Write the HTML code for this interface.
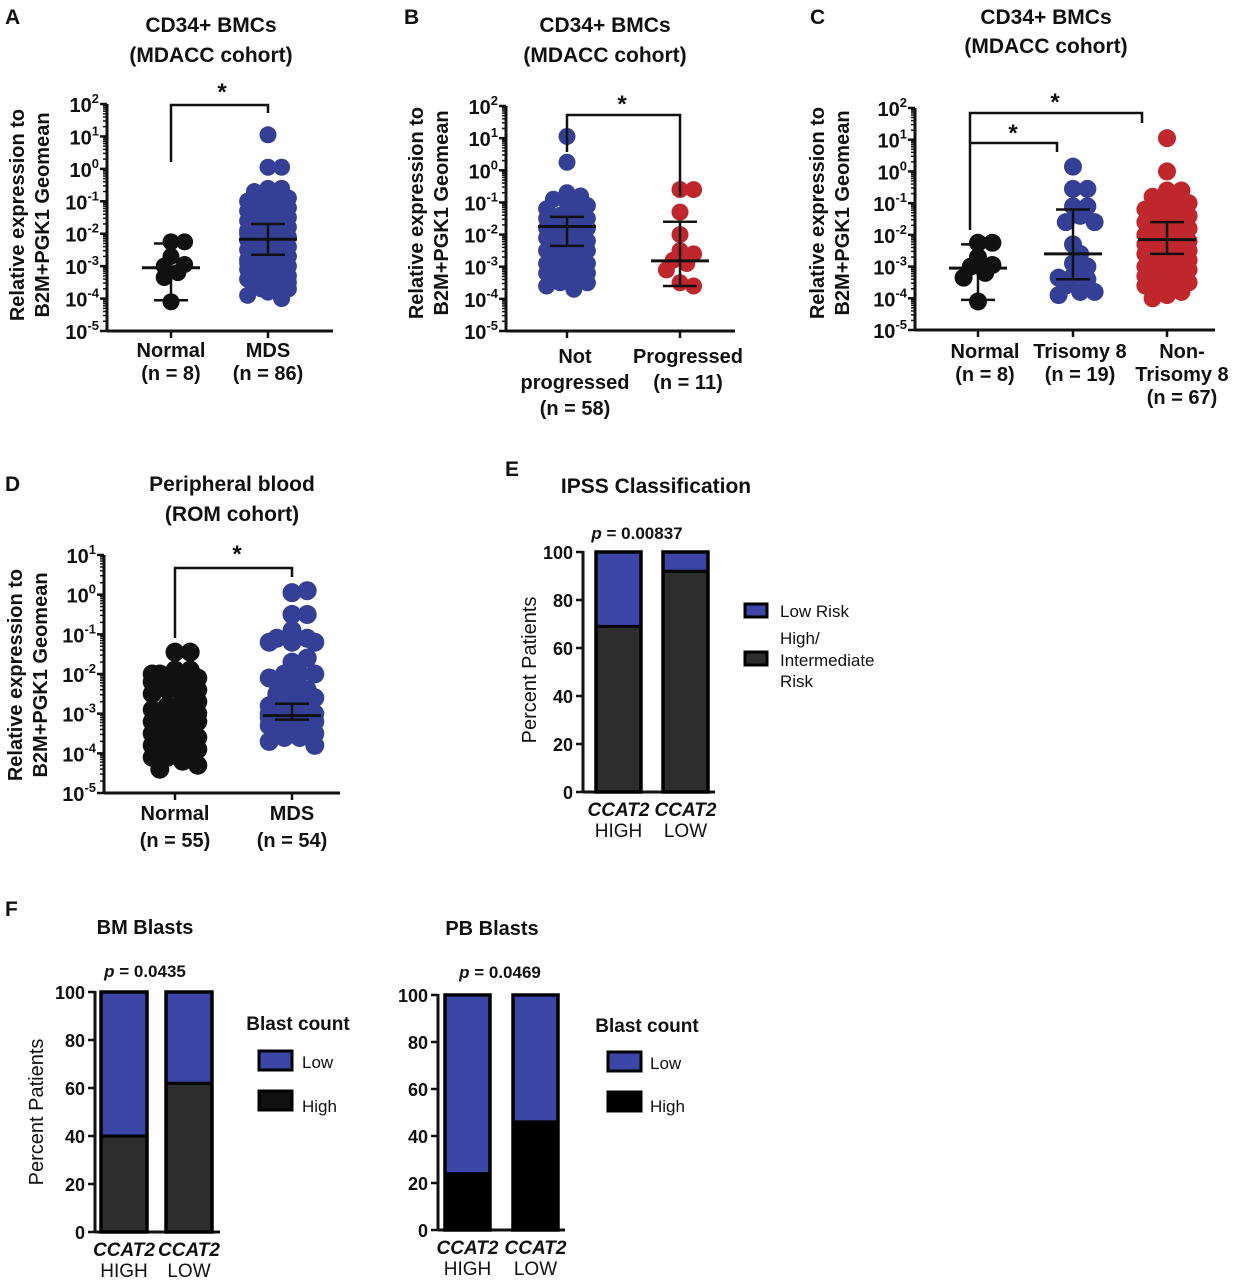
<!DOCTYPE html>
<html><head><meta charset="utf-8"><style>
html,body{margin:0;padding:0;background:#fff}
svg{display:block;font-family:"Liberation Sans",Arial,sans-serif;font-weight:bold}
</style></head><body>
<svg id="fig" width="1234" height="1280" viewBox="0 0 1234 1280">
<rect width="1234" height="1280" fill="#fff"/>
</svg>
<script>
// ---------- data (log10 relative expression) ----------
const aNormal = [-2.25,-2.25,-2.7,-2.95,-3.0,-3.2,-3.35,-4.1];
const aMds = [1.05,0.05,0.05,-0.6,-0.6,-0.7,-0.8,-0.9,-0.9,-1.0,-1.1,-1.2,-1.2,-1.3,-1.4,-1.5,-1.5,-1.6,-1.7,-1.8,-1.8,-1.9,-2.0,-2.0,-2.0,-2.1,-2.1,-2.2,-2.2,-2.2,-2.3,-2.3,-2.4,-2.4,-2.5,-2.5,-2.5,-2.6,-2.6,-2.7,-2.7,-2.8,-2.8,-2.8,-2.9,-2.9,-3.0,-3.0,-3.0,-3.0,-3.1,-3.1,-3.1,-3.2,-3.2,-3.2,-3.3,-3.3,-3.3,-3.4,-3.4,-3.5,-3.5,-3.6,-3.6,-3.7,-3.8,-3.9,-4.0,-1.6,-1.9,-2.1,-2.4,-2.6,-2.9,-3.1,-3.4,-2.0,-2.3,-2.7,-1.0,-1.3,-3.7,-3.5,-2.5,-1.7];
const aStats = [[-3.05,-4.05,-2.3],[-2.17,-2.65,-1.7]]; // mean, low, high
const bNot = [1.05,0.25,-0.7,-0.8,-0.9,-1.0,-1.1,-1.2,-1.3,-1.4,-1.5,-1.5,-1.6,-1.7,-1.8,-1.8,-1.9,-2.0,-2.0,-2.1,-2.2,-2.2,-2.3,-2.4,-2.4,-2.5,-2.5,-2.6,-2.7,-2.7,-2.8,-2.8,-2.9,-2.9,-3.0,-3.0,-3.0,-3.1,-3.1,-3.2,-3.2,-3.3,-3.3,-3.4,-3.4,-3.5,-3.5,-3.6,-3.7,-1.2,-1.6,-2.1,-2.6,-3.1,-3.2,-2.3,-1.9,-3.0];
const bProg = [-0.6,-0.6,-1.3,-2.0,-2.5,-2.6,-2.8,-2.9,-3.1,-3.5,-3.6];
const bStats = [[-1.75,-2.35,-1.45],[-2.82,-3.6,-1.6]];
const cNormal = [-2.25,-2.25,-2.7,-2.95,-3.0,-3.2,-3.35,-4.1];
const cTri = [0.15,-0.55,-0.55,-1.1,-1.1,-1.4,-1.6,-1.6,-2.3,-2.6,-2.9,-3.0,-3.3,-3.35,-3.4,-3.6,-3.8,-3.8,-3.9];
const cNon = [1.05,0.0,-0.6,-0.6,-0.8,-0.9,-1.0,-1.1,-1.2,-1.3,-1.4,-1.5,-1.6,-1.7,-1.8,-1.9,-2.0,-2.0,-2.1,-2.1,-2.2,-2.2,-2.3,-2.3,-2.4,-2.4,-2.5,-2.5,-2.6,-2.6,-2.7,-2.7,-2.8,-2.8,-2.9,-2.9,-3.0,-3.0,-3.0,-3.1,-3.1,-3.2,-3.2,-3.3,-3.3,-3.4,-3.4,-3.5,-3.5,-3.6,-3.6,-3.7,-3.8,-3.9,-4.0,-1.6,-1.9,-2.4,-2.6,-2.9,-3.1,-3.4,-2.0,-2.7,-1.0,-3.7,-2.5];
const cStats = [[-3.05,-4.05,-2.3],[-2.6,-3.4,-1.2],[-2.15,-2.6,-1.6]];
const dNormal = [-1.45,-1.45,-1.9,-1.9,-2.0,-2.0,-2.1,-2.1,-2.2,-2.2,-2.3,-2.4,-2.5,-2.6,-2.7,-2.8,-2.9,-2.9,-3.0,-3.0,-3.0,-3.1,-3.1,-3.2,-3.2,-3.2,-3.3,-3.3,-3.4,-3.5,-3.5,-3.6,-3.6,-3.7,-3.7,-3.8,-3.8,-3.8,-3.9,-3.9,-4.0,-4.0,-4.0,-4.1,-4.1,-4.2,-4.3,-4.4,-3.0,-2.0,-3.9,-3.4,-2.4,-3.6,-4.0];
const dMds = [0.05,0.1,-0.5,-0.5,-0.9,-1.1,-1.1,-1.2,-1.2,-1.2,-1.7,-1.6,-2.0,-2.0,-2.0,-2.1,-2.3,-2.4,-2.5,-2.5,-2.6,-2.7,-2.8,-2.9,-2.9,-3.0,-3.0,-3.0,-3.0,-3.1,-3.1,-3.1,-3.2,-3.2,-3.2,-3.3,-3.3,-3.3,-3.4,-3.4,-3.5,-3.5,-3.6,-3.6,-3.7,-3.8,-2.2,-2.6,-2.8,-3.1,-3.4,-3.2,-3.0,-2.9];
const dStats = [[-3.2,-3.35,-2.85],[-3.05,-3.15,-2.75]];
// stacked bar percentages (bottom segment)
const eBottom = [69, 92];
const fBmBottom = [40, 62];
const fPbBottom = [24, 46];
const pctTicks = [0,20,40,60,80,100];

const NS="http://www.w3.org/2000/svg";
const svg=document.getElementById('fig');
const BLUE="#343f96", RED="#c0272d";
function el(tag,attrs,parent){const e=document.createElementNS(NS,tag);for(const k in attrs)e.setAttribute(k,attrs[k]);(parent||svg).appendChild(e);return e;}
function txt(x,y,s,size,parent,anchor,extra){const t=el('text',Object.assign({x:x,y:y,'font-size':size,'text-anchor':anchor||'middle',fill:'#111'},extra||{}),parent);t.textContent=s;return t;}
function line(x1,y1,x2,y2,w,parent,col){return el('line',{x1:x1,y1:y1,x2:x2,y2:y2,stroke:col||'#111','stroke-width':w||2.5},parent);}

function scatterPanel(name,cfg,groups,stats){
  const g=el('g',{});
  
  
  const y=v=>cfg.yTop+(cfg.maxE-v)*(cfg.yBot-cfg.yTop)/(cfg.maxE-cfg.minE);
  const ax=el('g',{},g);
  
  
  line(cfg.ax,cfg.yTop,cfg.ax,cfg.yBot,3,ax);
  line(cfg.ax,cfg.yBot,cfg.xEnd,cfg.yBot,3,ax);
  for(let e=cfg.minE;e<=cfg.maxE;e++){
    line(cfg.ax-7,y(e),cfg.ax,y(e),2.5,ax);
    const t=txt(cfg.ax-8,y(e)+8,'10',20,ax,'end');
    const s=el('tspan',{dy:-9,'font-size':13},t);s.textContent=(e<0?'-':'')+Math.abs(e);
    if(e<cfg.maxE)for(let m=2;m<10;m++){const yy=y(e+Math.log10(m));line(cfg.ax-4,yy,cfg.ax,yy,1.5,ax);}
  }
  const yt=el('g',{transform:`translate(${cfg.ylx},${cfg.ylc}) rotate(-90)`},g);
  
  
  txt(0,0,'Relative expression to',20,yt);txt(0,25,'B2M+PGK1 Geomean',20,yt);
  groups.forEach((gr,gi)=>{
    const gg=el('g',{},g);
    
    
    line(gr.x,cfg.yBot,gr.x,cfg.yBot+7,2.5,gg);
    const placed=[];const r=cfg.r, step=r*0.8, maxK=gr.maxK||4;
    gr.vals.forEach(v=>{
      const py=y(v);let best=null,bestD=-1;
      for(let k=0;k<=2*maxK;k++){
        const off=(k%2?1:-1)*Math.ceil(k/2)*step;
        let md=1e9;placed.forEach(p=>{md=Math.min(md,Math.hypot(p[0]-off,p[1]-py));});
        if(md>=r*1.3){best=off;bestD=md;break;}
        if(md>bestD){bestD=md;best=off;}
      }
      placed.push([best,py]);
      const c=el('circle',{cx:gr.x+best,cy:py,r:r,fill:gr.color},gg);
      
      
    });
    const st=stats[gi];
    line(gr.x-29,y(st[0]),gr.x+29,y(st[0]),3,gg);
    line(gr.x,y(st[1]),gr.x,y(st[2]),2.5,gg);
    line(gr.x-17,y(st[1]),gr.x+17,y(st[1]),2.5,gg);
    line(gr.x-17,y(st[2]),gr.x+17,y(st[2]),2.5,gg);
    gr.labels.forEach((l,li)=>txt(gr.lx||gr.x,gr.ly+li*gr.lh,l,20,gg));
  });
  return g;
}
function bracket(x1,y1,x2,y2,top,sx,sy){
  const b=el('g',{});
  
  
  el('polyline',{points:`${x1},${y1} ${x1},${top} ${x2},${top} ${x2},${y2}`,fill:'none',stroke:'#111','stroke-width':2.5},b);
  txt(sx,sy,'*',24,b);
}
function panelLabel(s,x,y){const t=txt(x,y,s,21,null,'start');}

// ---- Panel A ----
panelLabel('A',5,24);
txt(211,32,'CD34+ BMCs',21);txt(211,62,'(MDACC cohort)',21);
scatterPanel('panel-a',{ax:107,yTop:104,yBot:331,maxE:2,minE:-5,xEnd:333,r:8.5,ylx:24,ylc:215},
 [{id:'normal',x:171,color:'#111',vals:aNormal,labels:['Normal','(n = 8)'],ly:357,lh:23,maxK:2},
  {id:'mds',x:268,color:BLUE,vals:aMds,labels:['MDS','(n = 86)'],ly:357,lh:23,maxK:3}],aStats);
bracket(171,162,268,113,105,222,100);

// ---- Panel B ----
panelLabel('B',404,24);
txt(605,32,'CD34+ BMCs',21);txt(605,62,'(MDACC cohort)',21);
scatterPanel('panel-b',{ax:506,yTop:106,yBot:331,maxE:2,minE:-5,xEnd:735,r:8.5,ylx:423,ylc:213},
 [{id:'not-progressed',x:567,color:BLUE,vals:bNot,labels:['Not','progressed','(n = 58)'],lx:575,ly:363,lh:26,maxK:3},
  {id:'progressed',x:680,color:RED,vals:bProg,labels:['Progressed','(n = 11)'],lx:688,ly:363,lh:26,maxK:2}],bStats);
bracket(567,152,680,196,115,622,112);

// ---- Panel C ----
panelLabel('C',810,24);
txt(1046,24,'CD34+ BMCs',21);txt(1046,53,'(MDACC cohort)',21);
scatterPanel('panel-c',{ax:915,yTop:108,yBot:330,maxE:2,minE:-5,xEnd:1215,r:9,ylx:824,ylc:213},
 [{id:'normal',x:978,color:'#111',vals:cNormal,labels:['Normal','(n = 8)'],lx:985,ly:358,lh:23,maxK:2},
  {id:'trisomy-8',x:1073,color:BLUE,vals:cTri,labels:['Trisomy 8','(n = 19)'],lx:1080,ly:358,lh:23,maxK:3},
  {id:'non-trisomy-8',x:1167,color:RED,vals:cNon,labels:['Non-','Trisomy 8','(n = 67)'],lx:1182,ly:358,lh:23,maxK:3}],cStats);
bracket(970,230,1057,152,143,1013,141);
bracket(970,143,1142,123,113,1055,110);

// ---- Panel D ----
panelLabel('D',5,491);
txt(232,491,'Peripheral blood',21);txt(232,521,'(ROM cohort)',21);
scatterPanel('panel-d',{ax:104,yTop:555,yBot:793,maxE:1,minE:-5,xEnd:340,r:9.5,ylx:22,ylc:675},
 [{id:'normal',x:175,color:'#111',vals:dNormal,labels:['Normal','(n = 55)'],ly:820,lh:27,maxK:3},
  {id:'mds',x:292,color:BLUE,vals:dMds,labels:['MDS','(n = 54)'],ly:820,lh:27,maxK:3}],dStats);
bracket(175,638,292,577,568,237,562);

// ---------- stacked bars ----------
function barPanel(name,cfg,bottoms,topCol,botCol){
  const g=el('g',{});
  
  
  const y=v=>cfg.y0-(v/100)*(cfg.y0-cfg.y100);
  line(cfg.ax,cfg.y100-1,cfg.ax,cfg.y0,3,g);
  line(cfg.ax,cfg.y0,cfg.xEnd,cfg.y0,3,g);
  pctTicks.forEach(t=>{line(cfg.ax-7,y(t),cfg.ax,y(t),2.5,g);txt(cfg.ax-10,y(t)+7,String(t),18,g,'end');});
  const yt=el('g',{transform:`translate(${cfg.ylx},${cfg.ylc}) rotate(-90)`},g);
  
  
  txt(0,0,'Percent Patients',20,yt,'middle',{'font-weight':'normal'});
  bottoms.forEach((b,i)=>{
    const x=cfg.bx[i],w=cfg.bw;
    const bg=el('g',{},g);
    
    
    el('rect',{x:x,y:y(100),width:w,height:y(b)-y(100),fill:topCol},bg);
    el('rect',{x:x,y:y(b),width:w,height:y(0)-y(b),fill:botCol},bg);
    el('rect',{x:x,y:y(100),width:w,height:y(0)-y(100),fill:'none',stroke:'#000','stroke-width':3.5},bg);
    line(x,y(b),x+w,y(b),3,bg,'#000');
    txt(x+w/2,cfg.y0+24,'CCAT2',19,bg,'middle',{'font-style':'italic'});
    txt(x+w/2,cfg.y0+45,i?'LOW':'HIGH',19,bg,'middle',{'font-weight':'normal'});
  });
  return g;
}
function legendBox(x,y,w,h,col,parent){el('rect',{x:x,y:y,width:w,height:h,fill:col,stroke:'#000','stroke-width':3},parent);}

// ---- Panel E ----
panelLabel('E',505,476);
txt(656,493,'IPSS Classification',21);
const pe=txt(637,539,'',17);pe.innerHTML='<tspan font-style="italic">p</tspan> = 0.00837';
barPanel('panel-e',{ax:583,y0:792,y100:552,xEnd:715,bx:[596,663],bw:45,ylx:536,ylc:670},eBottom,'#3c46a6','#2d2d2d');
const le=el('g',{});
legendBox(745,604,22,13,'#3c46a6',le);txt(780,617,'Low Risk',17,le,'start',{'font-weight':'normal'});
legendBox(745,652,22,13,'#2d2d2d',le);
txt(780,644,'High/',17,le,'start',{'font-weight':'normal'});txt(780,666,'Intermediate',17,le,'start',{'font-weight':'normal'});txt(780,687,'Risk',17,le,'start',{'font-weight':'normal'});

// ---- Panel F ----
panelLabel('F',5,916);
txt(145,934,'BM Blasts',20);
const pf1=txt(145,977,'',17);pf1.innerHTML='<tspan font-style="italic">p</tspan> = 0.0435';
barPanel('panel-f-bm',{ax:95,y0:1232,y100:992,xEnd:220,bx:[101,166],bw:46,ylx:43,ylc:1112},fBmBottom,'#3c46a6','#2d2d2d');
const lf1=el('g',{});
txt(298,1030,'Blast count',19,lf1);
legendBox(259,1051,33,19,'#3c46a6',lf1);txt(302,1068,'Low',17,lf1,'start',{'font-weight':'normal'});
legendBox(259,1091,33,19,'#111',lf1);txt(302,1112,'High',17,lf1,'start',{'font-weight':'normal'});

txt(492,935,'PB Blasts',20);
const pf2=txt(500,978,'',17);pf2.innerHTML='<tspan font-style="italic">p</tspan> = 0.0469';
barPanel('panel-f-pb',{ax:438,y0:1230,y100:995,xEnd:565,bx:[445,513],bw:45,ylx:0,ylc:-100},fPbBottom,'#3c46a6','#000');
const lf2=el('g',{});
txt(647,1032,'Blast count',19,lf2);
legendBox(608,1052,33,19,'#3c46a6',lf2);txt(650,1069,'Low',17,lf2,'start',{'font-weight':'normal'});
legendBox(608,1092,33,19,'#000',lf2);txt(650,1112,'High',17,lf2,'start',{'font-weight':'normal'});
</script>
</body></html>
